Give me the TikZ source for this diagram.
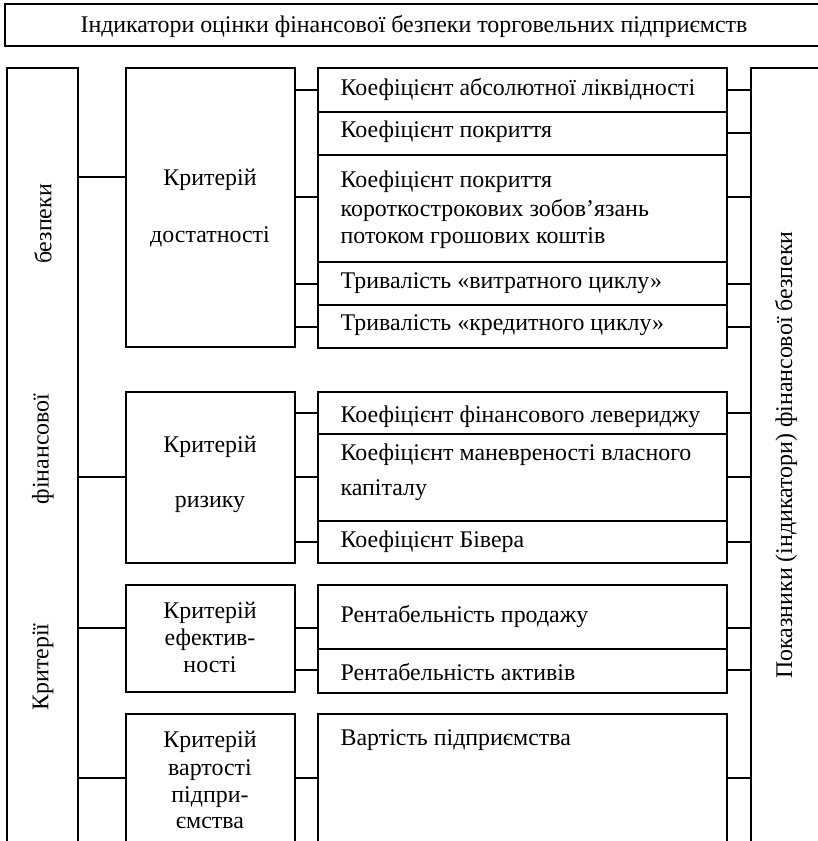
\documentclass[tikz,border=0pt]{standalone}
\usepackage{fontspec}
\setmainfont{Liberation Serif}
\begin{document}
\begin{tikzpicture}[x=1pt,y=-1pt,line width=1.3pt,
  box/.style={draw,rectangle,anchor=north west,inner sep=0pt,outer sep=0pt},
  txt/.style={font=\fontsize{23.9}{28}\selectfont,inner sep=0pt},
  lt/.style={txt,anchor=base west},
  ct/.style={txt,anchor=base},
  rt/.style={txt,rotate=90}]
\useasboundingbox (0,0) rectangle (818,841);
\clip (0,0) rectangle (818,841);
% boxes
\node[box,minimum width=825pt,minimum height=42pt] (title) at (5,4) {};
\node[box,minimum width=71pt,minimum height=802pt] (lcol) at (7,68) {};
\node[box,minimum width=79pt,minimum height=802pt] (rcol) at (751,68) {};
\node[box,minimum width=169pt,minimum height=279pt] (c1) at (126,68) {};
\node[box,minimum width=169pt,minimum height=171pt] (c2) at (126,392) {};
\node[box,minimum width=169pt,minimum height=107pt] (c3) at (126,585) {};
\node[box,minimum width=169pt,minimum height=156pt] (c4) at (126,714) {};
\node[box,minimum width=409pt,minimum height=44pt] (a1) at (318,68) {};
\node[box,minimum width=409pt,minimum height=43pt] (a2) at (318,112) {};
\node[box,minimum width=409pt,minimum height=107pt] (a3) at (318,155) {};
\node[box,minimum width=409pt,minimum height=43pt] (a4) at (318,262) {};
\node[box,minimum width=409pt,minimum height=43pt] (a5) at (318,305) {};
\node[box,minimum width=409pt,minimum height=42pt] (b1) at (318,392) {};
\node[box,minimum width=409pt,minimum height=87pt] (b2) at (318,434) {};
\node[box,minimum width=409pt,minimum height=42pt] (b3) at (318,521) {};
\node[box,minimum width=409pt,minimum height=64pt] (d1) at (318,585) {};
\node[box,minimum width=409pt,minimum height=44pt] (d2) at (318,649) {};
\node[box,minimum width=409pt,minimum height=156pt] (e1) at (318,714) {};
% texts
\node[ct] (tt) at (414,32) {Індикатори оцінки фінансової безпеки торговельних підприємств};
\node[rt] (l1) at (43,224) {безпеки};
\node[rt] (l2) at (43,449) {фінансової};
\node[rt] (l3) at (43,667) {Критерії};
\node[rt] (r1) at (786,455) {Показники (індикатори) фінансової безпеки};
\node[ct] (c1a) at (210,185) {Критерій};
\node[ct] (c1b) at (210,242) {достатності};
\node[ct] (c2a) at (210,452) {Критерій};
\node[ct] (c2b) at (210,507) {ризику};
\node[ct] (c3a) at (210,618) {Критерій};
\node[ct] (c3b) at (210,645) {ефектив-};
\node[ct] (c3c) at (210,672) {ності};
\node[ct] (c4a) at (210,747) {Критерій};
\node[ct] (c4b) at (210,775) {вартості};
\node[ct] (c4c) at (210,802) {підпри-};
\node[ct] (c4d) at (210,828) {ємства};
\node[lt] (a1t) at (340,95) {Коефіцієнт абсолютної ліквідності};
\node[lt] (a2t) at (340,137) {Коефіцієнт покриття};
\node[lt] (a3t) at (340,187) {Коефіцієнт покриття};
\node[lt] (a3u) at (340,216) {короткострокових зобов’язань};
\node[lt] (a3v) at (340,243) {потоком грошових коштів};
\node[lt] (a4t) at (340,288) {Тривалість «витратного циклу»};
\node[lt] (a5t) at (340,330) {Тривалість «кредитного циклу»};
\node[lt] (b1t) at (340,422) {Коефіцієнт фінансового левериджу};
\node[lt] (b2t) at (340,460) {Коефіцієнт маневреності власного};
\node[lt] (b2u) at (340,495) {капіталу};
\node[lt] (b3t) at (340,547) {Коефіцієнт Бівера};
\node[lt] (d1t) at (340,622) {Рентабельність продажу};
\node[lt] (d2t) at (340,680) {Рентабельність активів};
\node[lt] (e1t) at (340,745) {Вартість підприємства};
% connectors: left column to criteria
\foreach \c/\y in {c1/177,c2/477,c3/628,c4/778}
  \draw (lcol.east |- 0,\y) -- (\c.west |- 0,\y);
% criteria to indicators
\foreach \c/\r/\y in {c1/a1/90,c1/a3/197,c1/a4/284,c1/a5/327,
                      c2/b1/413,c2/b2/477,c2/b3/542,
                      c3/d1/628,c3/d2/670,c4/e1/778}
  \draw (\c.east |- 0,\y) -- (\r.west |- 0,\y);
% indicators to right column
\foreach \r/\y in {a1/90,a2/133,a3/197,a4/284,a5/327,b1/413,b2/477,b3/542,d1/628,d2/670,e1/778}
  \draw (\r.east |- 0,\y) -- (rcol.west |- 0,\y);
\end{tikzpicture}
\end{document}
